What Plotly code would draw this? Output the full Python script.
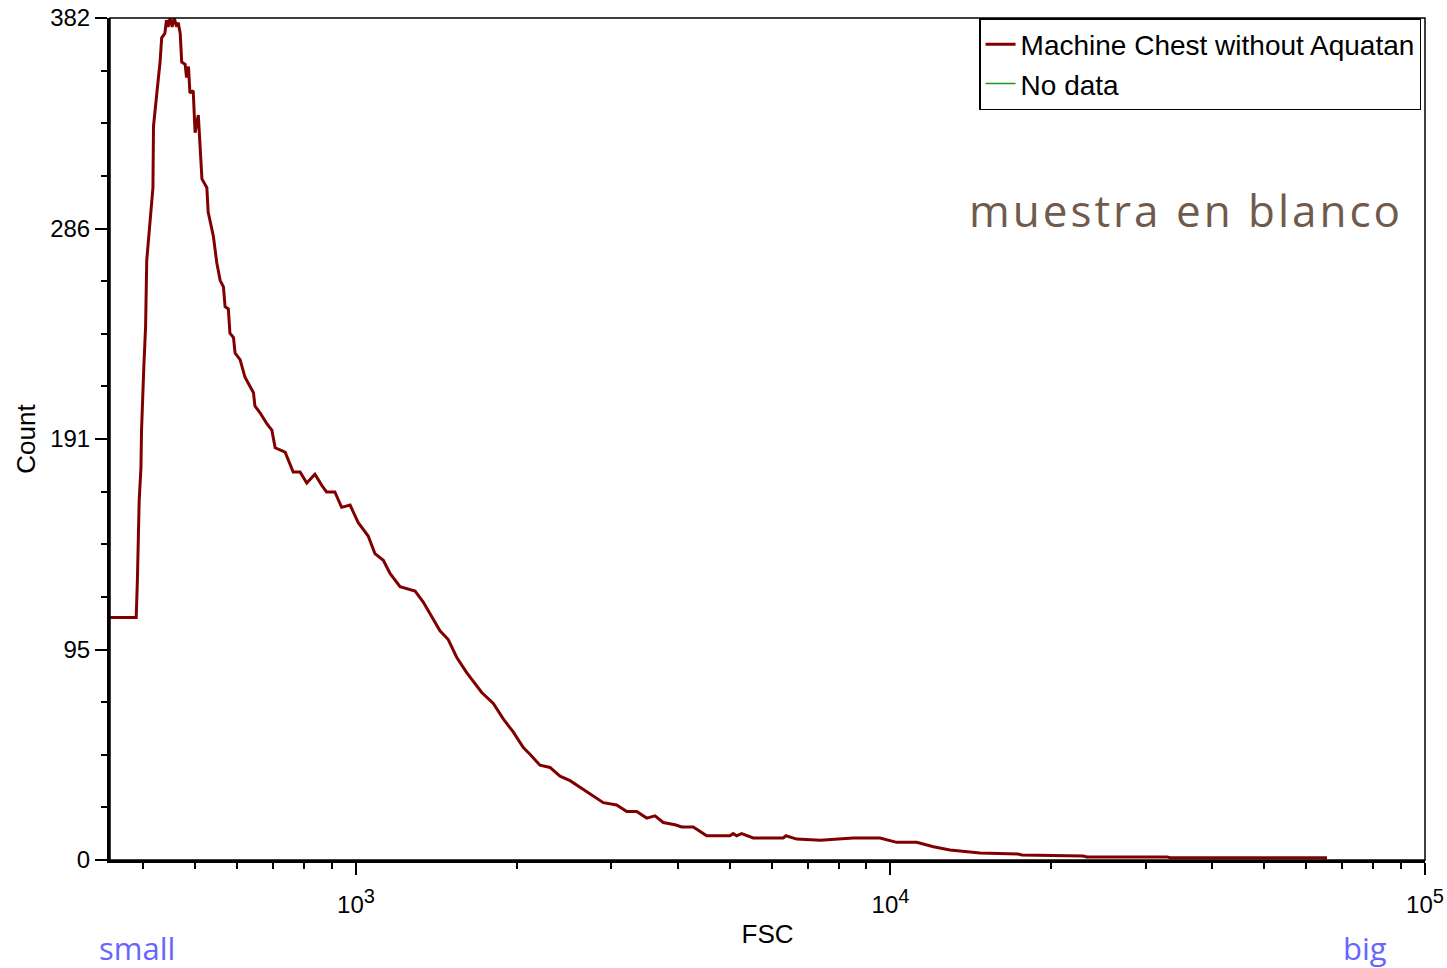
import plotly.graph_objects as go

# ---- data ----
fsc = [347, 388, 390, 392, 393, 396, 397, 401, 404, 406,
       411, 415, 417, 418, 424, 427, 430, 433, 439, 442,
       445, 449, 453, 457, 462, 465, 469, 472, 479, 482,
       486, 489, 496, 500, 507, 511, 515, 526, 529, 541,
       545, 549, 557, 565, 569, 577, 581, 590, 594, 607,
       620, 643, 647, 661, 681, 696, 706, 737, 763, 786,
       809, 838, 863, 881, 913, 940, 975, 1010, 1054, 1085,
       1125, 1158, 1209, 1244, 1290, 1336, 1395, 1436, 1488, 1543,
       1611, 1719, 1807, 1886, 1970, 2056, 2116, 2209, 2307, 2408,
       2515, 2625, 2741, 2902, 3074, 3210, 3351, 3499, 3626, 3758,
       3953, 4069, 4276, 4530, 5007, 5079, 5154, 5266, 5536, 6301,
       6374, 6675, 7382, 8519, 9559, 10270, 11195, 12030, 12920, 14085,
       14705, 17320, 17620, 22920, 23320, 32910, 33340, 65560]
counts = [110, 110, 127, 154, 163, 178, 195, 224, 242, 272,
          287, 299, 305, 333, 346, 355, 362, 373, 375, 381,
          378, 382, 378, 382, 378, 380, 375, 362, 361, 355,
          360, 348, 349, 330, 338, 325, 309, 305, 294, 283,
          277, 271, 263, 260, 251, 250, 239, 237, 230, 227,
          219, 212, 206, 203, 198, 195, 187, 185, 176, 176,
          171, 175, 170, 167, 167, 160, 161, 153, 147, 139,
          136, 130, 124, 123, 122, 117, 109, 104, 100, 92,
          85, 76, 71, 64, 58, 51, 48, 43, 42, 38,
          36, 33, 30, 26, 25, 22, 22, 19, 20, 17,
          16, 15, 15, 11, 11, 12, 11, 12, 10, 10,
          11, 9.5, 9, 10, 10, 8, 8, 6, 4.5, 3.6,
          3.2, 2.7, 2.3, 1.8, 1.4, 1.4, 1, 1]

series_names = ["Machine Chest without Aquatan", "No data"]
y_tick_vals = [0, 95.5, 191, 286.5, 382]
y_tick_text = ["0", "95", "191", "286", "382"]
x_tick_vals = [1e3, 1e4, 1e5]
x_exponents = ["3", "4", "5"]
x_tick_text = ['10<sup><span style="font-size:20px">%s</span></sup>' % e for e in x_exponents]

x_minor = [m * 10 ** e for e in (2, 3, 4) for m in range(2, 10) if 340 < m * 10 ** e < 1e5]
y_minor = [382 * k / 16 for k in range(17) if k % 4]

font_main = "Liberation Sans, Arial, sans-serif"

fig = go.Figure()
fig.add_trace(go.Scatter(x=fsc, y=counts, mode="lines", name=series_names[0],
                         line=dict(color="#800000", width=3)))
fig.add_trace(go.Scatter(x=[None], y=[None], mode="lines", name=series_names[1],
                         line=dict(color="#1a9a1a", width=1.5)))

fig.update_layout(
    width=1447, height=968,
    margin=dict(l=110, r=22, t=18, b=108, autoexpand=False),
    paper_bgcolor="white", plot_bgcolor="white",
    font=dict(family=font_main, color="black", size=24),
    showlegend=True,
    legend=dict(x=0.997, xanchor="right", y=1, yanchor="top",
                bordercolor="black", borderwidth=1.5, bgcolor="white",
                font=dict(size=28, family=font_main),
                tracegroupgap=0, itemwidth=30),
    xaxis=dict(type="log", range=[2.5398, 5.0], automargin=False,
               showgrid=False, zeroline=False,
               showline=True, linecolor="black", linewidth=3,
               ticks="outside", ticklen=12, tickwidth=2, tickcolor="black",
               tickvals=x_tick_vals, ticktext=x_tick_text,
               ticklabelstandoff=9,
               tickfont=dict(size=24),
               minor=dict(tickvals=x_minor, ticks="outside", ticklen=6,
                          tickwidth=2, tickcolor="black", showgrid=False),
               title=dict(text="FSC", font=dict(size=26), standoff=9)),
    yaxis=dict(range=[0, 382], automargin=False,
               showgrid=False, zeroline=False,
               showline=True, linecolor="black", linewidth=3,
               ticks="outside", ticklen=12, tickwidth=2, tickcolor="black",
               tickvals=y_tick_vals, ticktext=y_tick_text,
               tickfont=dict(size=24),
               minor=dict(tickvals=y_minor, ticks="outside", ticklen=6,
                          tickwidth=2, tickcolor="black", showgrid=False),
               title=dict(text="Count", font=dict(size=26), standoff=8)),
)

# thin frame on top/right
fig.add_shape(type="rect", xref="paper", yref="paper", x0=0, y0=0, x1=1, y1=1,
              line=dict(color="black", width=1.5), layer="above")

fig.add_annotation(xref="paper", yref="paper", x=0.9848, y=0.772,
                   xanchor="right", yanchor="middle", showarrow=False,
                   text='<span style="letter-spacing:3px">muestra en blanco</span>',
                   font=dict(family="Open Sans, sans-serif", size=44, color="rgb(112,90,76)"))
fig.add_annotation(xref="paper", yref="paper", x=0.0205, y=-0.1045,
                   xanchor="center", yanchor="middle", showarrow=False,
                   text="small", font=dict(family="Open Sans, sans-serif", size=31, color="rgb(102,102,255)"))
fig.add_annotation(xref="paper", yref="paper", x=0.954, y=-0.1045,
                   xanchor="center", yanchor="middle", showarrow=False,
                   text="big", font=dict(family="Open Sans, sans-serif", size=31, color="rgb(102,102,255)"))

fig.write_html("out.html")
